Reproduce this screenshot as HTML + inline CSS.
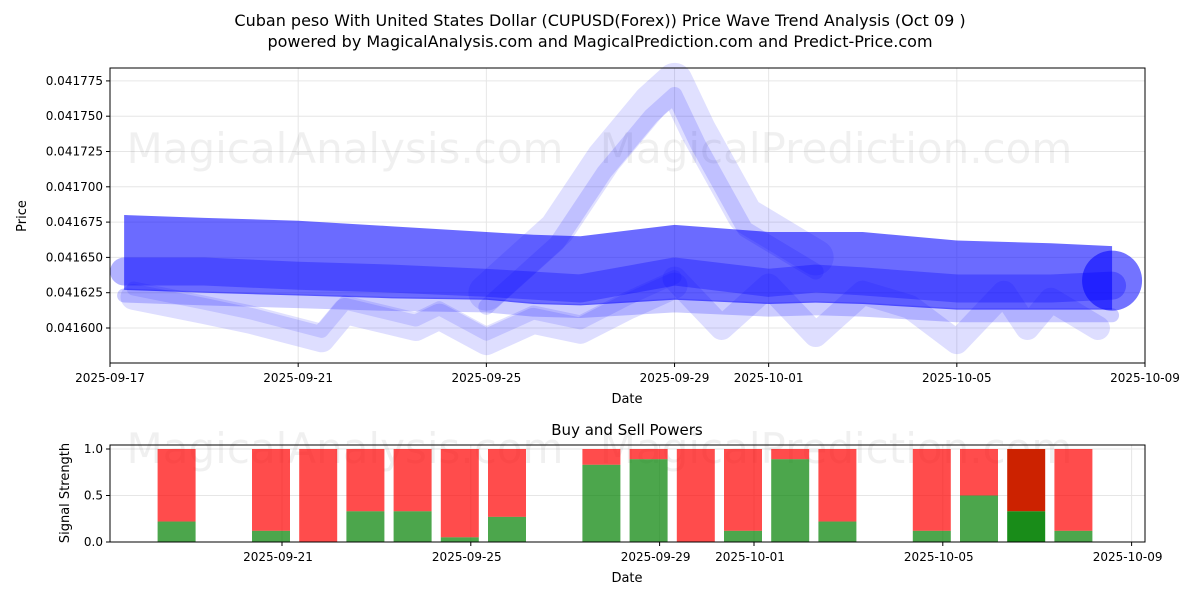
<!DOCTYPE html>
<html><head><meta charset="utf-8"><style>
body{margin:0;background:#fff;font-family:"Liberation Sans","DejaVu Sans",sans-serif;}
svg text{font-family:"DejaVu Sans","Liberation Sans",sans-serif;}
</style></head><body>
<svg id="c" width="1200" height="600" xmlns="http://www.w3.org/2000/svg">
<text x="600" y="26" font-size="16" text-anchor="middle">Cuban peso With United States Dollar (CUPUSD(Forex)) Price Wave Trend Analysis (Oct 09 )</text>
<text x="600" y="47" font-size="16" text-anchor="middle">powered by MagicalAnalysis.com and MagicalPrediction.com and Predict-Price.com</text>
<g id="topg"></g><g id="botg"></g>
</svg>
<script>
// top chart data (day offset from 2025-09-17, price)
const bandDays=[0.3,2,4,6,8,9,10,12,14,15,16,18,20,21.3];
const bandTop=[0.041680,0.041678,0.041676,0.041672,0.041668,0.041666,0.041665,0.041673,0.041668,0.041668,0.041668,0.041662,0.041660,0.041658];
const bandBottom=[0.041627,0.041625,0.041623,0.041621,0.041620,0.041617,0.041616,0.041620,0.041617,0.041618,0.041617,0.041613,0.041613,0.041613];
const bandMid=[0.041640,0.041640,0.041637,0.041635,0.041632,0.041630,0.041628,0.041640,0.041632,0.041635,0.041633,0.041628,0.041628,0.041630];
const spikeDays=[8,9.5,10.5,11.5,12,12.5,13.5,15];
const spikeVals=[0.041625,0.041670,0.041720,0.041760,0.041775,0.041740,0.041680,0.041650];
const dipDays=[0.5,2,3,4.5,5,6.5,7,8,9,10,11,12];
const dipVals=[0.041622,0.041612,0.041605,0.041592,0.041612,0.041600,0.041608,0.041590,0.041605,0.041598,0.041615,0.041630];
const dip2Days=[12,13,14,15,16,17,18,19,19.5,20,21];
const dip2Vals=[0.041635,0.041600,0.041630,0.041595,0.041625,0.041615,0.041590,0.041625,0.041600,0.041620,0.041600];
const yTicks=[0.0416,0.041625,0.04165,0.041675,0.0417,0.041725,0.04175,0.041775];
const xTickDays=[0,4,8,12,14,18,22];
const xTickLabels=["2025-09-17","2025-09-21","2025-09-25","2025-09-29","2025-10-01","2025-10-05","2025-10-09"];
// bottom chart data (day offset from 2025-09-17)
const barDays=[2,4,5,6,7,8,9,11,12,13,14,15,16,18,19,20,21];
const buyVals=[0.22,0.12,0.0,0.33,0.33,0.05,0.27,0.83,0.89,0.0,0.12,0.89,0.22,0.12,0.5,0.33,0.12];
const bTicks=[0,0.5,1.0];
const bxTickDays=[4,8,12,14,18,22];
const bxTickLabels=["2025-09-21","2025-09-25","2025-09-29","2025-10-01","2025-10-05","2025-10-09"];

const NS="http://www.w3.org/2000/svg";
function mk(p,t,a){const e=document.createElementNS(NS,t);for(const k in a)e.setAttribute(k,a[k]);p.appendChild(e);return e;}
const topG=document.getElementById('topg'),botG=document.getElementById('botg');
const L=110,R=1145,T=68,B=363;
const xs=d=>L+d*(R-L)/22;
const ys=v=>328-(v-0.0416)/0.000025*35.3;
yTicks.forEach(v=>{const g=mk(topG,'line',{x1:L,x2:R,y1:ys(v),y2:ys(v),stroke:'#e6e6e6'});
 
 
 const t=mk(topG,'text',{x:L-7,y:ys(v)+4,'font-size':12,'text-anchor':'end'});t.textContent=v.toFixed(6);
 
 
 mk(topG,'line',{x1:L-4,x2:L,y1:ys(v),y2:ys(v),stroke:'#000'});});
xTickDays.forEach((d,i)=>{const g=mk(topG,'line',{x1:xs(d),x2:xs(d),y1:T,y2:B,stroke:'#e6e6e6'});
 
 
 mk(topG,'line',{x1:xs(d),x2:xs(d),y1:B,y2:B+4,stroke:'#000'});
 const t=mk(topG,'text',{x:xs(d),y:B+19,'font-size':12,'text-anchor':'middle'});t.textContent=xTickLabels[i];
 
 });
const wm1=mk(topG,'text',{x:345,y:163,'font-size':42,fill:'#000','fill-opacity':0.06,'text-anchor':'middle'});wm1.textContent='MagicalAnalysis.com';


const wm2=mk(topG,'text',{x:836,y:163,'font-size':42,fill:'#000','fill-opacity':0.06,'text-anchor':'middle'});wm2.textContent='MagicalPrediction.com';


function line(days,vals,w,op,name){const pts=days.map((d,i)=>xs(d)+','+ys(vals[i])).join(' ');
 const e=mk(topG,'polyline',{points:pts,fill:'none',stroke:'#0000ff','stroke-opacity':op,'stroke-width':w,'stroke-linejoin':'round','stroke-linecap':'round'});
 
 }
line(dipDays,dipVals,26,0.13,'wave-dip');
line(dipDays,dipVals.map(v=>v+0.000006),14,0.12,'wave-dip-inner');
line(dip2Days,dip2Vals,24,0.13,'wave-dip-late');
line(spikeDays,spikeVals,36,0.12,'wave-spike');
line(spikeDays,spikeVals.map(v=>v-0.00001),16,0.14,'wave-spike-inner');
const pts=bandDays.map((d,i)=>xs(d)+','+ys(bandTop[i])).concat(bandDays.slice().reverse().map((d,j)=>xs(d)+','+ys(bandBottom[bandDays.length-1-j]))).join(' ');
const band=mk(topG,'polygon',{points:pts,fill:'#0000ff','fill-opacity':0.58});


line(bandDays,bandMid,28,0.3,'wave-main-core');
line(bandDays,bandBottom.map(v=>v-0.000004),14,0.2,'wave-lower');
const ec=mk(topG,'circle',{cx:xs(bandDays[bandDays.length-1]),cy:ys(bandMid[bandMid.length-1])-5,r:30,fill:'#0000ff','fill-opacity':0.55});


mk(topG,'rect',{x:L,y:T,width:R-L,height:B-T,fill:'none',stroke:'#000'});
const xl=mk(topG,'text',{x:627,y:403,'font-size':13,'text-anchor':'middle'});xl.textContent='Date';


const yl=mk(topG,'text',{x:26,y:216,'font-size':13,'text-anchor':'middle',transform:'rotate(-90 26 216)'});yl.textContent='Price';



const BT=445,BB=542;
const bx=d=>282+(d-4)*47.2;
const by=v=>BB-v*93;
const bt=mk(botG,'text',{x:627,y:435,'font-size':15,'text-anchor':'middle'});bt.textContent='Buy and Sell Powers';


bTicks.forEach(v=>{mk(botG,'line',{x1:L,x2:R,y1:by(v),y2:by(v),stroke:'#e6e6e6'});mk(botG,'line',{x1:L-4,x2:L,y1:by(v),y2:by(v),stroke:'#000'});
 const t=mk(botG,'text',{x:L-7,y:by(v)+4,'font-size':12,'text-anchor':'end'});t.textContent=v.toFixed(1);
 
 });
bxTickDays.forEach((d,i)=>{mk(botG,'line',{x1:bx(d),x2:bx(d),y1:BT,y2:BB,stroke:'#e6e6e6'});mk(botG,'line',{x1:bx(d),x2:bx(d),y1:BB,y2:BB+4,stroke:'#000'});
 const t=mk(botG,'text',{x:bx(d)-4,y:BB+19,'font-size':12,'text-anchor':'middle'});t.textContent=bxTickLabels[i];
 
 });
const wm3=mk(botG,'text',{x:345,y:463,'font-size':42,fill:'#000','fill-opacity':0.06,'text-anchor':'middle'});wm3.textContent='MagicalAnalysis.com';


const wm4=mk(botG,'text',{x:836,y:463,'font-size':42,fill:'#000','fill-opacity':0.06,'text-anchor':'middle'});wm4.textContent='MagicalPrediction.com';


barDays.forEach((d,i)=>{const cx=bx(d)-11,w=38,b=buyVals[i];const last=i===barDays.length-2;
 const s=mk(botG,'rect',{x:cx-w/2,y:by(1),width:w,height:by(b)-by(1),fill:last?'#cc2200':'#ff0000','fill-opacity':last?1:0.7});
 
 
 const g=mk(botG,'rect',{x:cx-w/2,y:by(b),width:w,height:BB-by(b),fill:'#008000','fill-opacity':last?0.9:0.7});
 
 });
mk(botG,'rect',{x:L,y:BT,width:R-L,height:BB-BT,fill:'none',stroke:'#000'});
const bxl=mk(botG,'text',{x:627,y:582,'font-size':13,'text-anchor':'middle'});bxl.textContent='Date';


const byl=mk(botG,'text',{x:69,y:493,'font-size':13,'text-anchor':'middle',transform:'rotate(-90 69 493)'});byl.textContent='Signal Strength';


</script>
</body></html>
